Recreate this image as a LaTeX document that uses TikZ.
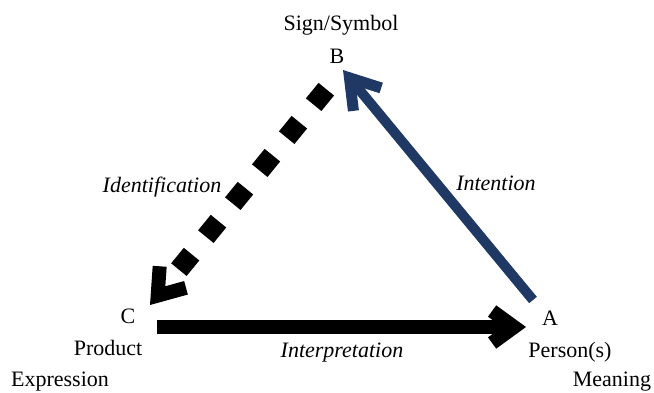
\documentclass[tikz,border=0pt]{standalone}
\usepackage{fontspec}
\setmainfont{Liberation Serif}
\usetikzlibrary{arrows.meta}
\definecolor{navy}{HTML}{1F3864}
\begin{document}
\begin{tikzpicture}[x=1pt,y=-1pt,
  lbl/.style={font=\fontsize{22}{26}\selectfont, inner sep=0pt, anchor=base},
  ital/.style={font=\fontsize{22}{26}\selectfont\itshape, inner sep=0pt, anchor=base},
  solidarrow/.style={line width=14pt, -{Straight Barb[length=22pt, width=32pt, line width=14pt]}},
  bluearrow/.style={navy, line width=10pt, -{Straight Barb[length=28pt, width=36pt, line width=11pt]}},
  dasharrow/.style={line width=20pt, dash pattern=on 20pt off 22.6pt, -{Straight Barb[length=24pt, width=34pt, line width=14pt]}}]
\useasboundingbox (0,0) rectangle (654,392);
% labels
\node[lbl] (sign) at (341,30) {Sign/Symbol};
\node[lbl] (B) at (337,63) {B};
\node[lbl] (C) at (128,323) {C};
\node[lbl] (A) at (550,325) {A};
\node[lbl] (prod) at (108,355) {Product};
\node[lbl] (pers) at (570,357) {Person(s)};
\node[lbl] (expr) at (60,386) {Expression};
\node[lbl] (mean) at (612,386) {Meaning};
\node[ital] (ident) at (162,192) {Identification};
\node[ital] (inten) at (496,190) {Intention};
\node[ital] (interp) at (342,357) {Interpretation};
% connector end points
\coordinate (aStart) at (533,300);
\coordinate (bTip) at (343,70);
\coordinate (bStart) at (326.3,89.2);
\coordinate (cTip) at (150,305);
\coordinate (cStart) at (157,327);
\coordinate (aTip) at (526,327);
% connectors
\draw[bluearrow] (aStart) -- (bTip);
\draw[dasharrow] (bStart) -- (cTip);
\draw[solidarrow] (cStart) -- (aTip);
\end{tikzpicture}
\end{document}
